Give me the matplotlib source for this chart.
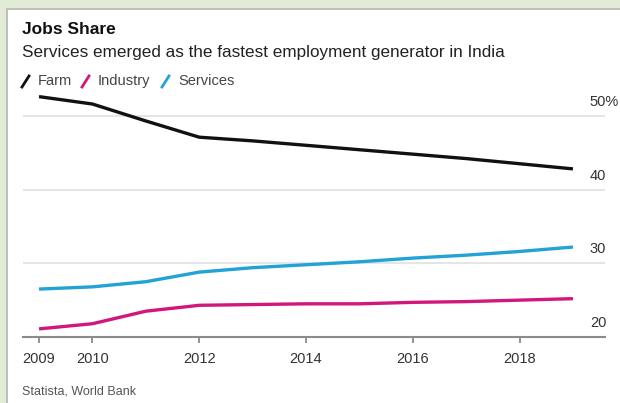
import matplotlib
matplotlib.use("Agg")
import matplotlib.pyplot as plt
from matplotlib.patches import Rectangle
from matplotlib.lines import Line2D

plt.rcParams['font.family'] = ['Liberation Sans', 'DejaVu Sans']

years = list(range(2009, 2020))
farm = [52.6, 51.6, 49.3, 47.1, 46.6, 46.0, 45.4, 44.8, 44.2, 43.5, 42.8]
industry = [21.1, 21.8, 23.5, 24.3, 24.4, 24.5, 24.5, 24.7, 24.8, 25.0, 25.2]
services = [26.5, 26.8, 27.5, 28.8, 29.4, 29.8, 30.2, 30.7, 31.1, 31.6, 32.2]

tick_years = [2009, 2010, 2012, 2014, 2016, 2018]
grid_vals = [20, 30, 40, 50]
grid_labels = ['20', '30', '40', '50%']

c_farm = '#111111'
c_ind = '#d1177c'
c_srv = '#23a2d5'

fig = plt.figure(figsize=(6.2, 4.03), dpi=100, facecolor='#e1ebd5')

# white card with a thin grey frame on the top/left
card = Rectangle((7 / 620, -0.05), 1.1, 1.05 - 9 / 403, transform=fig.transFigure,
                 facecolor='white', edgecolor='#b5b5b5', linewidth=1.2, zorder=-5)
fig.patches.append(card)

ax = fig.add_axes([23 / 620, 1 - 337 / 403, 582 / 620, (337 - 90) / 403])
ax.set_zorder(2)
ax.set_facecolor('none')

ax.plot(years, farm, color=c_farm, lw=2.4, solid_capstyle='butt')
ax.plot(years, industry, color=c_ind, lw=2.4, solid_capstyle='butt')
ax.plot(years, services, color=c_srv, lw=2.4, solid_capstyle='butt')

ax.set_xlim(2008.7, 2019.6)
ax.set_ylim(20, 53.5)

for v in grid_vals[1:]:
    ax.axhline(v, color='#e3e3e3', lw=1.3, zorder=0)

for v, lbl in zip(grid_vals, grid_labels):
    ax.annotate(lbl, xy=(0.974, v), xycoords=('axes fraction', 'data'),
                xytext=(0, 5), textcoords='offset points',
                ha='left', va='bottom', fontsize=10.5, color='#333333')

for s in ['top', 'right', 'left']:
    ax.spines[s].set_visible(False)
ax.spines['bottom'].set_color('#8a8a8a')
ax.spines['bottom'].set_linewidth(1.5)

ax.set_yticks([])
ax.set_xticks(tick_years)
ax.set_xticklabels([str(y) for y in tick_years])
ax.tick_params(axis='x', length=4.5, width=1.3, color='#8a8a8a', pad=6,
               labelsize=10.5, labelcolor='#333333')

fig.text(22 / 620, 1 - 30 / 403, 'Jobs Share', fontsize=12.5, fontweight='bold',
         color='#111111', va='center')
fig.text(22 / 620, 1 - 52 / 403,
         'Services emerged as the fastest employment generator in India',
         fontsize=12.3, color='#222222', va='center')

# legend: coloured slash + label
legend_items = [('Farm', c_farm, 22), ('Industry', c_ind, 82), ('Services', c_srv, 162)]
for name, col, x0 in legend_items:
    fig.add_artist(Line2D([x0 / 620, (x0 + 7) / 620], [1 - 87 / 403, 1 - 76 / 403],
                          transform=fig.transFigure, color=col, lw=2))
    fig.text((x0 + 16) / 620, 1 - 81 / 403, name, fontsize=10.5, color='#444444',
             va='center')

fig.text(22 / 620, 1 - 391 / 403, 'Statista, World Bank', fontsize=9,
         color='#555555', va='center')

fig.savefig('out.png', dpi=100, facecolor=fig.get_facecolor())
